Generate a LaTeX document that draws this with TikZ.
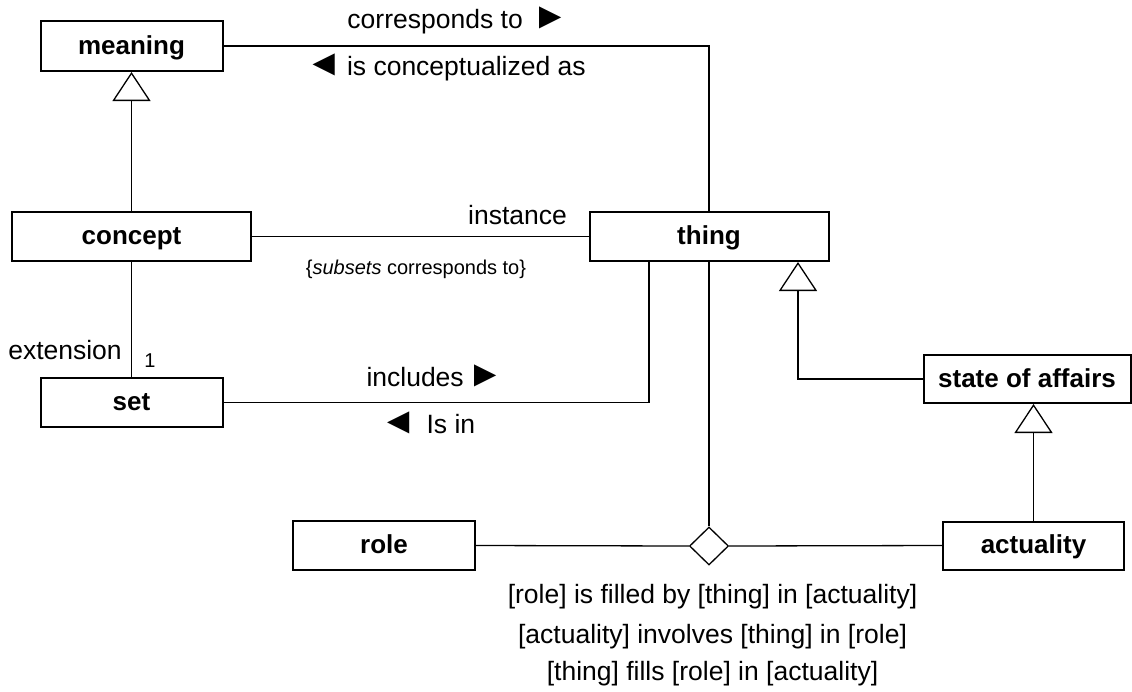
\documentclass[tikz,border=0pt]{standalone}
\usepackage{graphicx}
\usepackage{fontspec}
\setmainfont{Liberation Sans}
\usetikzlibrary{shapes.geometric,arrows.meta}

% reading-direction pointers beside association names
\newcommand{\dirright}{\scalebox{1.4}{►}}
\newcommand{\dirleft}{\scalebox{1.4}{◄}}

\begin{document}
\begin{tikzpicture}[x=1pt,y=-1pt,
  cls/.style={draw, line width=2pt, fill=white, inner sep=0pt,
    font=\fontsize{26}{30}\selectfont\bfseries, text height=16pt, text depth=0pt},
  conn/.style={line width=1.3pt},
  gen/.style={conn, -{Triangle[open, length=29pt 0 0, width=38pt 0 0]}},
  lbl/.style={anchor=base, inner sep=0pt, font=\fontsize{26.5}{30}\selectfont},
  small/.style={anchor=base, inner sep=0pt, font=\fontsize{20}{24}\selectfont},
  ]
\useasboundingbox (0,0) rectangle (1132,691);

% classes
\node[cls, minimum width=182pt, minimum height=50pt] (meaning) at (131.5,46) {meaning};
\node[cls, minimum width=239pt, minimum height=49pt] (concept) at (131.5,236.5) {concept};
\node[cls, minimum width=239pt, minimum height=49pt] (thing) at (709,236.5) {thing};
\node[cls, minimum width=182pt, minimum height=49pt] (set) at (131.5,402.5) {set};
\node[cls, minimum width=207pt, minimum height=48pt] (soa) at (1027,379) {state of affairs};
\node[cls, minimum width=181pt, minimum height=48pt] (actuality) at (1033.5,545.5) {actuality};
\node[cls, minimum width=182pt, minimum height=49pt] (role) at (384,545.5) {role};
\node[draw, diamond, line width=1.3pt, fill=white, inner sep=0pt,
  minimum width=39pt, minimum height=38pt] (assoc) at (709,546) {};

% associations
\draw[conn] (meaning.east) -| (thing.north);
\draw[conn] (concept.east) -- (thing.west);
\draw[conn] (concept.south) -- (set.north);
\draw[conn] (set.east) -| ([xshift=-60pt]thing.south);
\draw[conn] (thing.south) -- (assoc.north);
\draw[conn] (role.east) -- (assoc.west);
\draw[conn] (assoc.east) -- (actuality.west);

% generalizations
\draw[gen] (concept.north) -- (meaning.south);
\draw[gen] (soa.west) -| ([xshift=89pt]thing.south);
\draw[gen] (actuality.north) -- (actuality.north |- soa.south);

% association labels
\node[lbl] (corr) at (458,28) {corresponds to\hspace{9pt}\dirright};
\node[lbl] (conc) at (445.5,75) {\dirleft\hspace{5pt}is conceptualized as};
\node[lbl] (inst) at (517.5,224) {instance};
\node[small] (subs) at (416,274) {\{\textit{subsets} corresponds to\}};
\node[lbl] (ext) at (65,359) {extension};
\node[small] (mult) at (150,367) {1};
\node[lbl] (incl) at (435,386) {includes\hspace{3pt}\dirright};
\node[lbl] (isin) at (427.5,433) {\dirleft\hspace{10pt}Is in};
\node[lbl] (r1) at (712.5,603) {[role] is filled by [thing] in [actuality]};
\node[lbl] (r2) at (712.5,643) {[actuality] involves [thing] in [role]};
\node[lbl] (r3) at (712.5,680) {[thing] fills [role] in [actuality]};
\end{tikzpicture}
\end{document}
